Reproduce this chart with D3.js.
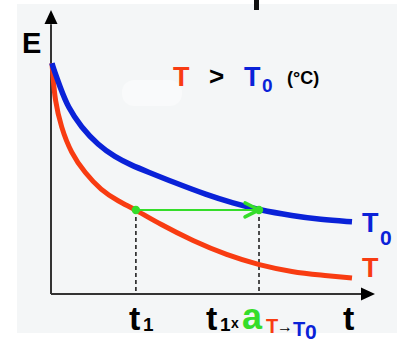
<!DOCTYPE html>
<html lang="en">
<head>
<meta charset="UTF-8">
<title>E vs t</title>
<script src="https://d3js.org/d3.v7.min.js"></script>
<style>
  body { margin: 0; background: #ffffff; }
  text { font-family: "Liberation Sans", Arial, sans-serif; font-weight: bold; }
</style>
</head>
<body>
<svg width="397" height="342"></svg>
<script>
// curves: t (time) and E (modulus), arbitrary units
var tBlue = [0.03, 0.06, 0.28, 0.52, 0.93, 1.45, 1.98, 2.47, 2.99, 3.77, 4.81, 5.62, 6.42, 7.47, 8.30, 9.29];
var eBlue = [8.13, 7.99, 7.29, 6.58, 5.88, 5.25, 4.82, 4.54, 4.30, 3.94, 3.49, 3.20, 2.96, 2.75, 2.62, 2.54];

var tRed = [0.03, 0.06, 0.12, 0.31, 0.62, 1.05, 1.54, 2.07, 2.62, 3.36, 4.38, 5.43, 6.42, 7.47, 8.30, 9.29];
var eRed = [8.13, 7.71, 6.83, 5.88, 4.96, 4.26, 3.66, 3.27, 2.96, 2.46, 1.87, 1.37, 1.02, 0.77, 0.67, 0.56];

var shiftT = [2.62, 6.42];   // t1 and t1 x aT->T0
var shiftE = 2.96;

var red = "#f83c12", blue = "#0a22d8", green = "#35dd2a";

var svg = d3.select("svg");

// light panel behind the drawing
svg.append("rect").attr("x", 17).attr("y", 4).attr("width", 380).attr("height", 329).attr("fill", "#f4f6f7");
svg.append("rect").attr("x", 122).attr("y", 80).attr("width", 60).attr("height", 26).attr("rx", 12)
   .attr("fill", "#ffffff").attr("opacity", 0.45);
svg.append("rect").attr("x", 254).attr("y", 0).attr("width", 5).attr("height", 10).attr("fill", "#111");

var x = d3.scaleLinear().domain([0, 10]).range([51, 375]);
var y = d3.scaleLinear().domain([0, 10]).range([294, 10]);

// axes with arrow heads
svg.append("line").attr("x1", x(0)).attr("y1", y(0)).attr("x2", x(0)).attr("y2", y(9.5))
   .attr("stroke", "#333").attr("stroke-width", 2);
svg.append("line").attr("x1", x(0)).attr("y1", y(0)).attr("x2", x(9.6)).attr("y2", y(0))
   .attr("stroke", "#333").attr("stroke-width", 2);
svg.append("path")
   .attr("d", "M" + x(0) + "," + y(10) + "L" + (x(0) - 6.5) + "," + (y(10) + 14) + "L" + (x(0) + 6.5) + "," + (y(10) + 14) + "Z")
   .attr("fill", "#000");
svg.append("path")
   .attr("d", "M" + x(10) + "," + y(0) + "L" + (x(10) - 14) + "," + (y(0) - 6.5) + "L" + (x(10) - 14) + "," + (y(0) + 6.5) + "Z")
   .attr("fill", "#000");

// dashed guides
svg.selectAll(".guide").data(shiftT).enter().append("line")
   .attr("class", "guide")
   .attr("x1", function (d) { return x(d); }).attr("x2", function (d) { return x(d); })
   .attr("y1", y(shiftE)).attr("y2", y(0))
   .attr("stroke", "#222").attr("stroke-width", 1.6).attr("stroke-dasharray", "4,3");

var line = d3.line()
    .x(function (d) { return x(d[0]); })
    .y(function (d) { return y(d[1]); })
    .curve(d3.curveBasis);

svg.append("path").datum(d3.zip(tRed, eRed)).attr("d", line)
   .attr("fill", "none").attr("stroke", red).attr("stroke-width", 5);
svg.append("path").datum(d3.zip(tBlue, eBlue)).attr("d", line)
   .attr("fill", "none").attr("stroke", blue).attr("stroke-width", 5.5);

// green shift arrow
svg.append("line").attr("x1", x(shiftT[0])).attr("y1", y(shiftE)).attr("x2", x(shiftT[1]) - 2).attr("y2", y(shiftE))
   .attr("stroke", green).attr("stroke-width", 2);
svg.append("path")
   .attr("d", "M" + (x(shiftT[1]) - 14) + "," + (y(shiftE) - 7) + "L" + x(shiftT[1]) + "," + y(shiftE) +
              "L" + (x(shiftT[1]) - 14) + "," + (y(shiftE) + 7))
   .attr("fill", "none").attr("stroke", green).attr("stroke-width", 3.5).attr("stroke-linecap", "round");
svg.selectAll(".dot").data(shiftT).enter().append("circle")
   .attr("class", "dot")
   .attr("cx", function (d) { return x(d); }).attr("cy", y(shiftE)).attr("r", 4.2)
   .attr("fill", green);

// labels
svg.append("text").attr("x", 22).attr("y", 53).attr("font-size", 29).attr("fill", "#000").text("E");

svg.append("text").attr("x", 173).attr("y", 86).attr("font-size", 27).attr("fill", red).text("T");
svg.append("text").attr("x", 209).attr("y", 85).attr("font-size", 26).attr("fill", "#000").text(">");
svg.append("text").attr("x", 244).attr("y", 86).attr("font-size", 27).attr("fill", blue).text("T");
svg.append("text").attr("x", 262).attr("y", 92).attr("font-size", 19).attr("fill", blue).text("0");
svg.append("text").attr("x", 287).attr("y", 84).attr("font-size", 18).attr("fill", "#000").text("(°C)");

svg.append("text").attr("x", 362).attr("y", 232).attr("font-size", 27).attr("fill", blue).text("T");
svg.append("text").attr("x", 380).attr("y", 245).attr("font-size", 21).attr("fill", blue).text("0");
svg.append("text").attr("x", 362).attr("y", 277).attr("font-size", 27).attr("fill", red).text("T");

svg.append("text").attr("x", 343).attr("y", 330).attr("font-size", 34).attr("fill", "#000").text("t");

svg.append("text").attr("x", 129).attr("y", 330).attr("font-size", 34).attr("fill", "#000").text("t");
svg.append("text").attr("x", 143).attr("y", 331).attr("font-size", 19).attr("fill", "#000").text("1");

svg.append("text").attr("x", 206).attr("y", 330).attr("font-size", 34).attr("fill", "#000").text("t");
svg.append("text").attr("x", 220).attr("y", 331).attr("font-size", 19).attr("fill", "#000").text("1");
svg.append("text").attr("x", 231).attr("y", 328).attr("font-size", 14).attr("fill", "#000").text("x");
svg.append("text").attr("x", 242).attr("y", 329).attr("font-size", 36).attr("font-weight", "normal").attr("fill", green).text("a");
svg.append("text").attr("x", 266).attr("y", 333).attr("font-size", 20).attr("font-weight", "normal").attr("fill", red).text("T");
svg.append("text").attr("x", 277).attr("y", 332).attr("font-size", 16).attr("fill", "#000").text("→");
svg.append("text").attr("x", 293).attr("y", 336).attr("font-size", 20).attr("font-weight", "normal").attr("fill", blue).text("T");
svg.append("text").attr("x", 305).attr("y", 339).attr("font-size", 21).attr("fill", blue).text("0");
</script>
</body>
</html>
